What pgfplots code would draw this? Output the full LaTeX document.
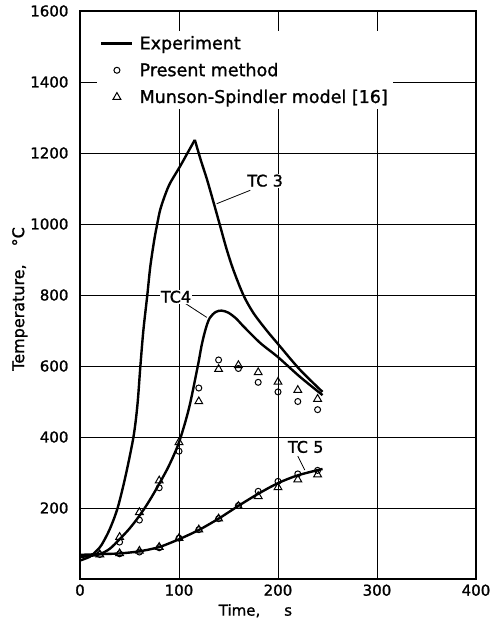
\documentclass[border=0pt]{standalone}
\usepackage{fontspec}
\setmainfont{DejaVu Sans}[BoldFont={DejaVu Sans}, BoldFeatures={FakeBold=1.2}]
\usepackage{pgfplots}
\pgfplotsset{compat=1.18}
\newcommand\ft[1]{\fontsize{#1}{#1}\selectfont\bfseries}

\begin{document}
\begin{tikzpicture}
\useasboundingbox (-80pt,-41pt) rectangle (415pt,579pt);
\begin{axis}[scale only axis, width=396pt, height=568pt,
  xmin=0, xmax=400, ymin=0, ymax=1600,
  xtick={0,100,...,400}, ytick={200,400,...,1600},
  grid=major, major grid style={black, line width=0.5pt},
  major tick length=0pt,
  axis line style={line width=1.1pt},
  tick label style={font=\ft{15}},
  /pgf/number format/assume math mode=true,
  /pgf/number format/1000 sep={},
  yticklabel style={xshift=-8pt},
  xticklabel style={yshift=-2pt},
  xlabel={Time,\hspace{24pt}s},
  xlabel style={at={(axis description cs:0.443,-0.056)}, anchor=center, font=\ft{15}},
  ylabel={Temperature,\hspace{18pt}°C},
  ylabel style={at={(axis description cs:-0.152,0.493)}, anchor=center, font=\ft{16}},
  legend image code/.code={\draw[mark repeat=2,mark phase=2,#1] plot coordinates {(0pt,0pt) (15.5pt,0pt) (31pt,0pt)};},
  legend style={at={(0.043,0.965)}, anchor=north west, draw=none, fill=white,
    font=\ft{17.5}, row sep=8pt, column sep=4pt, inner sep=3pt},
  legend cell align=left,
]
\addlegendimage{black, line width=2.4pt}
\addlegendentry{Experiment}
\addlegendimage{black, only marks, mark=o, mark size=3pt, line width=1pt}
\addlegendentry{Present method}
\addlegendimage{black, only marks, mark=triangle, mark size=4.5pt, line width=1pt}
\addlegendentry{Munson-Spindler model [16]}

% experiment, TC 3 (rise and fall drawn apart to keep the sharp peak)
\addplot[black, line width=2.4pt, smooth, forget plot] coordinates {
  (0,52) (10,63) (17,80) (22,97) (30,140) (38,200) (46,290) (54,400) (58,490)
  (61,600) (64,700) (68,800) (71,880) (75,955) (78,1000) (81,1040) (86,1082)
  (91,1115) (101,1162) (108,1197) (116,1237)};
\addplot[black, line width=2.4pt, smooth, forget plot] coordinates {
  (116,1237) (122,1180) (128,1128) (135,1060) (141,1000) (148,930) (155,870)
  (165,800) (175,750) (188,702) (200,662) (222,590) (245,527)};
% TC 4
\addplot[black, line width=2.4pt, smooth, forget plot] coordinates {
  (0,62) (10,65) (20,70) (30,85) (40,112) (50,142) (60,178) (70,220) (80,268)
  (90,320) (100,385) (110,480) (119,600) (123,660) (127,705) (131,735) (137,752)
  (143,756) (150,750) (158,733) (165,712) (182,665) (200,625) (222,570) (245,518)};
% TC 5
\addplot[black, line width=2.4pt, smooth, forget plot] coordinates {
  (0,68) (20,70) (40,72) (60,78) (80,90) (100,112) (120,138) (140,170) (160,206)
  (180,240) (200,270) (220,292) (245,310)};

% present method
\addplot[black, only marks, mark=o, mark size=3pt, line width=1pt,
  mark options={fill=white}, forget plot] coordinates {
  (40,104) (60,166) (80,257) (100,360) (120,538) (140,617) (160,593) (180,554)
  (200,527) (220,500) (240,477)
  (20,69) (40,71) (60,76) (80,88) (100,115) (120,139) (140,170) (160,207)
  (180,247) (200,275) (220,296) (240,306)};
% Munson-Spindler model
\addplot[black, only marks, mark=triangle, mark size=4.5pt, line width=1pt,
  mark options={fill=white}, forget plot] coordinates {
  (40,118) (60,188) (80,277) (100,385) (120,500) (140,591) (160,602) (180,582)
  (200,555) (220,532) (240,507)
  (20,69) (40,72) (60,79) (80,90) (100,115) (120,139) (140,170) (160,205)
  (180,233) (200,258) (220,280) (240,294)};

\draw[line width=0.8pt] (axis cs:172,1095) -- (axis cs:138,1057);
\node[fill=white, inner sep=1pt, font=\ft{16}] at (axis cs:187,1122) {TC\,\,3};
\draw[line width=0.8pt] (axis cs:106,777) -- (axis cs:128,737);
\node[fill=white, inner sep=1pt, font=\ft{16}] at (axis cs:97,795) {TC4};
\draw[line width=0.8pt] (axis cs:220,346) -- (axis cs:227,307);
\node[fill=white, inner sep=1pt, font=\ft{16}] at (axis cs:228,372) {TC\,\,5};
\end{axis}
\end{tikzpicture}
\end{document}
